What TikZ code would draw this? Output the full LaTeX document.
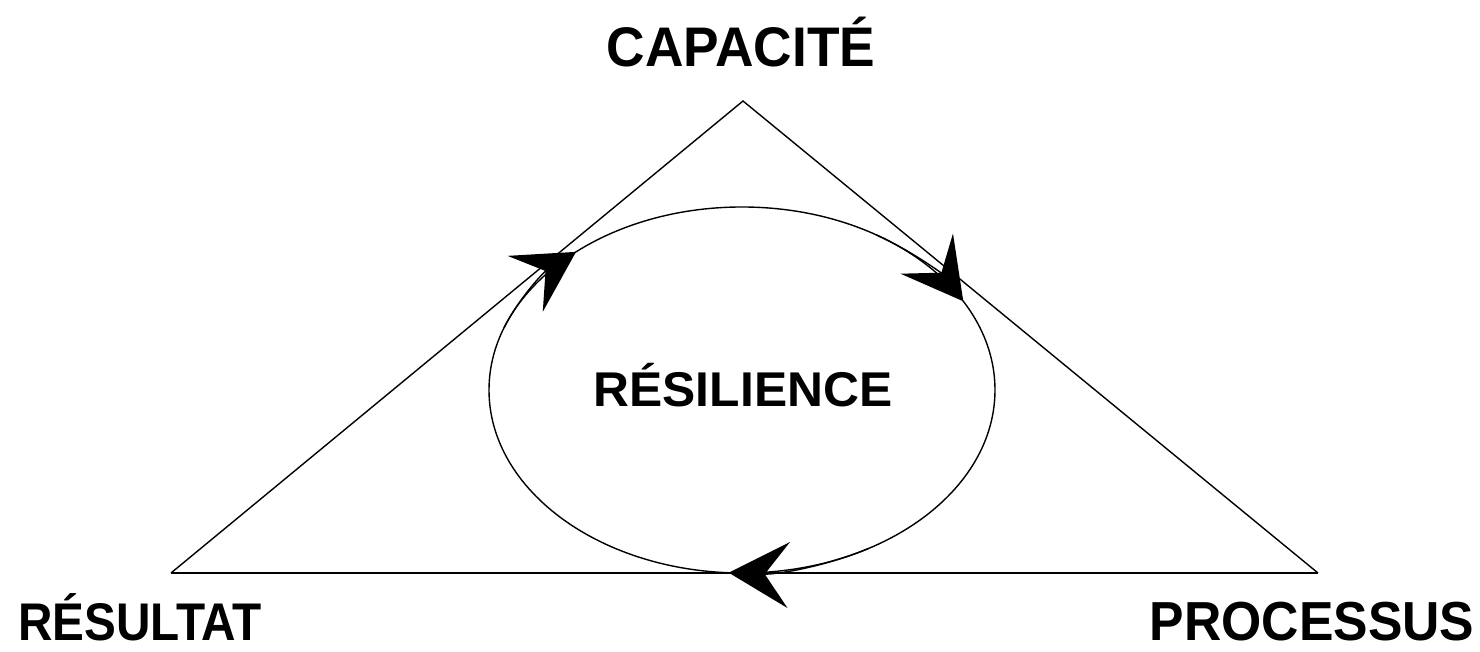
\documentclass[tikz,border=0pt]{standalone}
\usepackage{fontspec}
\setmainfont{Liberation Sans}
\usetikzlibrary{arrows.meta,shapes.geometric}

\tikzset{
  side/.style={line width=0.7pt},
  base/.style={line width=1.1pt},
  label/.style={anchor=base, inner sep=0pt, font=\bfseries},
  cycletip/.style={line width=0.7pt, -{Stealth[length=30pt, width=33pt, inset=12pt]}}
}

\begin{document}
\begin{tikzpicture}[x=0.5pt, y=0.5pt]
	\useasboundingbox (0,0) rectangle (1480,652);
	% triangle corners
	\coordinate (apex) at (743, 551);
	\coordinate (left) at (171, 79);
	\coordinate (right) at (1318, 79);

	\node[draw, ellipse, side, minimum width=253pt, minimum height=183pt] (cycle) at (742, 262) {};

	\node[label] (capacite) at (741, 585) {\fontsize{27.9}{30}\selectfont\scalebox{0.955}[1]{CAPACITÉ}};
	\node[label] (resilience) at (743, 245) {\fontsize{24.4}{26}\selectfont\scalebox{1.02}[1]{RÉSILIENCE}};
	\node[label] (resultat) at (140, 11) {\fontsize{26.5}{28}\selectfont\scalebox{0.9}[1]{RÉSULTAT}};
	\node[label] (processus) at (1312, 11) {\fontsize{27.5}{29}\selectfont\scalebox{0.94}[1]{PROCESSUS}};

	\draw[side] (left) -- (apex) -- (right);
	\draw[base] (left) -- (right);

	% arrows round the cycle
	\draw[cycletip] ([shift={(160:253 and 183)}]cycle.center) arc[start angle=160, end angle=131, x radius=253, y radius=183];
	\draw[cycletip] ([shift={(58:253 and 183)}]cycle.center) arc[start angle=58, end angle=29, x radius=253, y radius=183];
	\draw[cycletip] ([shift={(300:253 and 183)}]cycle.center) arc[start angle=300, end angle=267, x radius=253, y radius=183];
\end{tikzpicture}
\end{document}
